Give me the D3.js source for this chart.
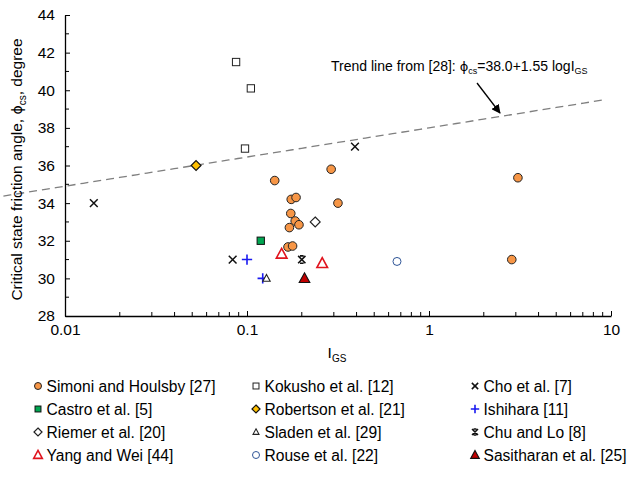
<!DOCTYPE html>
<html>
<head>
<meta charset="utf-8">
<script src="https://cdn.jsdelivr.net/npm/d3@7"></script>
<style>
  body { margin: 0; background: #fff; }
  svg { font-family: Arial, "Liberation Sans", sans-serif; }
</style>
</head>
<body>
<svg id="chart" width="627" height="479"></svg>
<script>
// data: [I_GS, phi_cs]
var simoniHoulsby = [[0.142, 35.2], [0.29, 35.8], [0.175, 34.2], [0.186, 34.3], [0.316, 34.0],
  [0.174, 33.45], [0.184, 33.05], [0.193, 32.85], [0.171, 32.7], [0.168, 31.67], [0.178, 31.72],
  [3.08, 35.35], [2.85, 31.0]];
var kokusho = [[0.0871, 41.5], [0.105, 40.1], [0.0975, 36.9]];
var cho = [[0.0144, 34.0], [0.0834, 31.0], [0.392, 37.0]];
var castro = [[0.119, 32.0]];
var robertson = [[0.0525, 36.0]];
var ishihara = [[0.1, 31.0], [0.122, 30.0]];
var riemer = [[0.237, 33.0]];
var sladen = [[0.128, 30.0]];
var chuLo = [[0.2, 31.0]];
var yangWei = [[0.155, 31.3], [0.259, 30.8]];
var rouse = [[0.667, 30.9]];
var sasitharan = [[0.207, 30.0]];

var xTicks = [0.01, 0.1, 1, 10];
var yTicks = [28, 30, 32, 34, 36, 38, 40, 42, 44];

// trend line phi = 38.0 + 1.55 log(I_GS)
var trendA = 38.0, trendB = 1.55;

var series = [
  {name: "Simoni and Houlsby [27]", data: simoniHoulsby, shape: "circle", fill: "#F79646", stroke: "#222"},
  {name: "Kokusho et al. [12]", data: kokusho, shape: "square", fill: "#fff", stroke: "#222"},
  {name: "Cho et al. [7]", data: cho, shape: "x", fill: "none", stroke: "#111"},
  {name: "Castro et al. [5]", data: castro, shape: "square", fill: "#00A651", stroke: "#111"},
  {name: "Robertson et al. [21]", data: robertson, shape: "diamond", fill: "#FFC000", stroke: "#111"},
  {name: "Ishihara [11]", data: ishihara, shape: "plus", fill: "none", stroke: "#1A1AF0"},
  {name: "Riemer et al. [20]", data: riemer, shape: "diamond", fill: "#fff", stroke: "#222"},
  {name: "Sladen et al. [29]", data: sladen, shape: "triangle", fill: "#fff", stroke: "#222"},
  {name: "Chu and Lo [8]", data: chuLo, shape: "star", fill: "none", stroke: "#111"},
  {name: "Yang and Wei [44]", data: yangWei, shape: "bigtriangle", fill: "#fff", stroke: "#E0141E"},
  {name: "Rouse et al. [22]", data: rouse, shape: "ocircle", fill: "#fff", stroke: "#2F5597"},
  {name: "Sasitharan et al. [25]", data: sasitharan, shape: "ftriangle", fill: "#C00000", stroke: "#111"}
];

var svg = d3.select("#chart");
var margin = {left: 65, right: 16, top: 15, bottom: 163};
var width = 627 - margin.left - margin.right;
var height = 479 - margin.top - margin.bottom;

var x = d3.scaleLog().domain([0.01, 10]).range([0, width]);
var y = d3.scaleLinear().domain([28, 44]).range([height, 0]);

var g = svg.append("g").attr("transform", "translate(" + margin.left + "," + margin.top + ")");

// minor ticks
var minorX = [];
[0.01, 0.1, 1].forEach(function(d) {
  for (var k = 2; k <= 9; k++) minorX.push(d * k);
});
var minorY = d3.range(29, 44, 2);

var xAxis = d3.axisBottom(x).tickValues(xTicks).tickFormat(d3.format("~g")).tickSizeInner(-5).tickSizeOuter(0).tickPadding(8);
var yAxis = d3.axisLeft(y).tickValues(yTicks).tickSizeInner(-5).tickSizeOuter(0).tickPadding(10);

var gx = g.append("g").attr("transform", "translate(0," + height + ")").call(xAxis);
var gy = g.append("g").call(yAxis);

gx.selectAll(".minor").data(minorX).enter().append("line")
  .attr("x1", function(d) { return x(d); }).attr("x2", function(d) { return x(d); })
  .attr("y1", 0).attr("y2", -4).attr("stroke", "#000");
gy.selectAll(".minor").data(minorY).enter().append("line")
  .attr("y1", function(d) { return y(d); }).attr("y2", function(d) { return y(d); })
  .attr("x1", 0).attr("x2", 4).attr("stroke", "#000");

[gx, gy].forEach(function(a) {
  a.select(".domain").attr("stroke", "#000").attr("stroke-width", 1.3);
  a.selectAll(".tick line").attr("stroke", "#000");
  a.selectAll(".tick text").attr("font-size", 15.5).attr("fill", "#000").attr("font-family", "Arial, 'Liberation Sans', sans-serif");
});

// trend line (starts a little left of the y axis, as in the figure)
var trendX = d3.range(-2.55, 0.98, 0.05).map(function(l) { return Math.pow(10, l); });
var trendLine = d3.line()
  .x(function(d) { return x(d); })
  .y(function(d) { return y(trendA + trendB * Math.log10(d)); });
g.append("path").datum(trendX)
  .attr("d", trendLine)
  .attr("fill", "none").attr("stroke", "#7F7F7F").attr("stroke-width", 1.3)
  .attr("stroke-dasharray", "8,5");

// marker drawing
function drawMarker(sel, s, size) {
  var r = size;
  if (s.shape === "circle" || s.shape === "ocircle") {
    sel.append("circle").attr("r", r).attr("fill", s.fill).attr("stroke", s.stroke).attr("stroke-width", 1);
  } else if (s.shape === "square") {
    sel.append("rect").attr("x", -r * 0.85).attr("y", -r * 0.85).attr("width", r * 1.7).attr("height", r * 1.7)
      .attr("fill", s.fill).attr("stroke", s.stroke).attr("stroke-width", 1);
  } else if (s.shape === "diamond") {
    var d = r * 1.15;
    sel.append("path").attr("d", "M0," + (-d) + "L" + d + ",0L0," + d + "L" + (-d) + ",0Z")
      .attr("fill", s.fill).attr("stroke", s.stroke).attr("stroke-width", 1.2);
  } else if (s.shape === "x") {
    var c = r * 0.9;
    sel.append("path").attr("d", "M" + (-c) + "," + (-c) + "L" + c + "," + c + "M" + (-c) + "," + c + "L" + c + "," + (-c))
      .attr("stroke", s.stroke).attr("stroke-width", 1.5).attr("fill", "none");
  } else if (s.shape === "star") {
    var c2 = r * 0.85, h = c2 * 0.5;
    sel.append("path").attr("d", "M" + (-c2) + "," + (-c2) + "L" + c2 + "," + c2 + "M" + (-c2) + "," + c2 + "L" + c2 + "," + (-c2) +
        "M" + (-h) + "," + (-c2) + "H" + h + "M" + (-h) + "," + c2 + "H" + h)
      .attr("stroke", s.stroke).attr("stroke-width", 1.6).attr("fill", "none");
  } else if (s.shape === "plus") {
    var p = r * 1.2;
    sel.append("path").attr("d", "M" + (-p) + ",0H" + p + "M0," + (-p) + "V" + p)
      .attr("stroke", s.stroke).attr("stroke-width", 1.6).attr("fill", "none");
  } else if (s.shape === "triangle" || s.shape === "bigtriangle" || s.shape === "ftriangle") {
    var t = s.shape === "triangle" ? r * 0.9 : r * 1.3;
    sel.append("path").attr("d", "M0," + (-t) + "L" + (t * 0.95) + "," + (t * 0.75) + "L" + (-t * 0.95) + "," + (t * 0.75) + "Z")
      .attr("fill", s.fill).attr("stroke", s.stroke)
      .attr("stroke-width", s.shape === "bigtriangle" ? 1.6 : 1.1);
  }
}

series.forEach(function(s) {
  var size = s.shape === "ocircle" ? 4 : 4.3;
  g.append("g").selectAll("g").data(s.data).enter().append("g")
    .attr("transform", function(d) { return "translate(" + x(d[0]) + "," + y(d[1]) + ")"; })
    .each(function() { drawMarker(d3.select(this), s, size); });
});

// annotation
var ann = svg.append("text").attr("x", 331).attr("y", 71).attr("font-size", 14).attr("fill", "#000");
ann.append("tspan").text("Trend line from [28]: ");
ann.append("tspan").attr("font-family", "'DejaVu Sans', sans-serif").attr("font-size", 13).text("\u03d5");
ann.append("tspan").attr("font-size", 9).attr("dy", 3).text("cs");
ann.append("tspan").attr("dy", -3).text("=38.0+1.55 logI");
ann.append("tspan").attr("font-size", 9).attr("dy", 3).text("GS");

svg.append("defs").append("marker").attr("id", "arrow")
  .attr("viewBox", "0 0 10 10").attr("refX", 9).attr("refY", 5)
  .attr("markerWidth", 7).attr("markerHeight", 7).attr("orient", "auto")
  .append("path").attr("d", "M0,0L10,5L0,10Z").attr("fill", "#000");
svg.append("line").attr("x1", 477).attr("y1", 83).attr("x2", 500).attr("y2", 113)
  .attr("stroke", "#000").attr("stroke-width", 1.3).attr("marker-end", "url(#arrow)");

// axis titles
var xt = svg.append("text").attr("x", 337).attr("y", 358).attr("text-anchor", "middle").attr("font-size", 15.5);
xt.append("tspan").text("I");
xt.append("tspan").attr("font-size", 10).attr("dy", 4).text("GS");

var yt = svg.append("text").attr("transform", "translate(22," + (margin.top + height / 2 + 4) + ") rotate(-90)")
  .attr("text-anchor", "middle").attr("font-size", 15.5);
yt.append("tspan").text("Critical state friction angle, ");
yt.append("tspan").attr("font-family", "'DejaVu Sans', sans-serif").attr("font-size", 14).text("\u03d5");
yt.append("tspan").attr("font-size", 10).attr("dy", 4).text("cs");
yt.append("tspan").attr("dy", -4).text(", degree");

// legend
var colX = [38, 256, 475];
var rowY = [386, 409, 432, 455];
var leg = svg.append("g").selectAll("g").data(series).enter().append("g")
  .attr("transform", function(d, i) { return "translate(" + colX[i % 3] + "," + rowY[Math.floor(i / 3)] + ")"; });
leg.each(function(s) { drawMarker(d3.select(this), s, 3.5); });
leg.append("text").attr("x", 8.5).attr("y", 6).attr("font-size", 15.6).attr("fill", "#000")
  .text(function(d) { return d.name; });
</script>
</body>
</html>
